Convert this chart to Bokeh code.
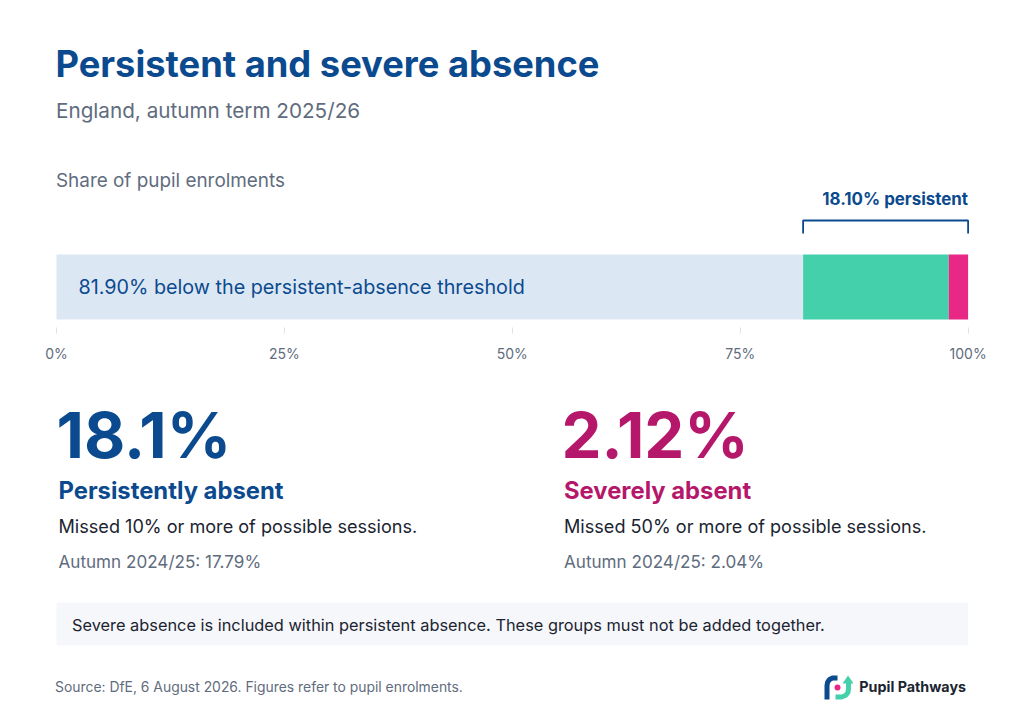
from bokeh.core.properties import value
from bokeh.embed import file_html
from bokeh.layouts import column
from bokeh.resources import INLINE
from bokeh.plotting import figure
from bokeh.models import Range1d, LinearAxis, FixedTicker, ColumnDataSource

# ---- data
segment_names = ["below", "persistent only", "severe"]
segment_values = [81.90, 15.98, 2.12]
persistent_share = 18.10
tick_values = [0, 25, 50, 75, 100]
tick_labels = ["0%", "25%", "50%", "75%", "100%"]

TITLE = "Persistent and severe absence"
SUBTITLE = "England, autumn term 2025/26"
AXIS_TITLE = "Share of pupil enrolments"
BAR_LABEL = "81.90% below the persistent-absence threshold"
BRACKET_LABEL = "18.10% persistent"
NOTE = "Severe absence is included within persistent absence. These groups must not be added together."
SOURCE = "Source: DfE, 6 August 2026. Figures refer to pupil enrolments."
BRAND = "Pupil Pathways"

# ---- colours
NAVY = "#0B4A8E"
MAGENTA = "#B5176B"
GREY = "#5F6C7E"
INK = "#1B2430"
BAR_COLORS = ["#DCE7F4", "#45D0AC", "#E92784"]
FONT = "Inter"

W = 1020
SPLIT = 375   # pixel row where the lower panel begins
AXIS_Y = 327  # pixel row of the axis
BOTTOM = 720
PL, PR = 56, 967.6  # pixels of 0% and 100%
scale = (PR - PL) / 100.0


def panel(height, y_top, y_bottom, **kw):
    f = figure(width=W, height=height, output_backend="svg", toolbar_location=None,
               x_range=Range1d(0, W), y_range=Range1d(y_bottom, y_top),
               x_axis_location=None, y_axis_location=None,
               min_border=0, outline_line_color=None, background_fill_color="white",
               border_fill_color="white", **kw)
    f.grid.visible = False
    return f


top = panel(SPLIT, 0, AXIS_Y, min_border_bottom=SPLIT - AXIS_Y)
low = panel(BOTTOM - SPLIT, SPLIT, BOTTOM)
top.extra_x_ranges = {"pct": Range1d(-PL / scale, (W - PL) / scale)}

# stacked bar
lefts, rights, acc = [], [], 0.0
for v in segment_values:
    lefts.append(acc)
    acc += v
    rights.append(acc)
src = ColumnDataSource(dict(l=lefts, r=rights, c=BAR_COLORS))
top.quad(left="l", right="r", top=254, bottom=319, color="c", line_color=None,
         x_range_name="pct", source=src)

# axis
ax = LinearAxis(x_range_name="pct", ticker=FixedTicker(ticks=tick_values),
                major_label_overrides={t: l for t, l in zip(tick_values, tick_labels)})
ax.axis_line_color = None
ax.minor_tick_line_color = None
ax.major_tick_line_color = "#DCE3EE"
ax.major_tick_line_width = 1
ax.major_tick_in = 0
ax.major_tick_out = 6
ax.major_label_standoff = 11
ax.major_label_text_font = FONT
ax.major_label_text_font_size = "14px"
ax.major_label_text_color = GREY
top.add_layout(ax, "below")

# bracket
bx0 = 100 - persistent_share
top.multi_line(xs=[[bx0, bx0, 100, 100]], ys=[[233, 220, 220, 233]],
               line_color=NAVY, line_width=1.8, x_range_name="pct")


def txt(f, x, y, s, size, color, bold=False, align="left", font=FONT):
    f.text(x=[x], y=[y], text=[s], text_font=value(font), text_font_size=f"{size}px",
           text_color=color, text_font_style="bold" if bold else "normal",
           text_align=align, text_baseline="middle")


# note box
low.quad(left=56, right=967.6, top=602, bottom=645, color="#F6F7FB", line_color=None)

txt(top, 55, 63, TITLE, 36.3, NAVY, True)
txt(top, 55.5, 110, SUBTITLE, 20.7, GREY)
txt(top, 55.5, 180, AXIS_TITLE, 18.9, GREY)
txt(top, 967.5, 198, BRACKET_LABEL, 16.9, NAVY, True, "right")
txt(top, 78, 286, BAR_LABEL, 19.75, NAVY)
txt(low, 56, 434, "18.1%", 63.5, NAVY, True)
txt(low, 58, 490, "Persistently absent", 23.8, NAVY, True)
txt(low, 58, 525, "Missed 10% or more of possible sessions.", 18.1, INK)
txt(low, 58, 561, "Autumn 2024/25: 17.79%", 17.1, GREY)
txt(low, 561, 434, "2.12%", 63.5, MAGENTA, True)
txt(low, 563.5, 490, "Severely absent", 23.8, MAGENTA, True)
txt(low, 563.5, 525, "Missed 50% or more of possible sessions.", 18.1, INK)
txt(low, 563.5, 561, "Autumn 2024/25: 2.04%", 17.1, GREY)
txt(low, 71.5, 624, NOTE, 16.35, INK)
txt(low, 54.5, 686, SOURCE, 13.9, GREY)
txt(low, 965.5, 686, BRAND, 14.3, INK, True, "right")

# logo
low.multi_line(xs=[[826.5, 826.5, 827.2, 829, 832, 837]],
               ys=[[699, 685, 681.5, 679, 677.5, 677.5]],
               line_color=NAVY, line_width=5)
low.multi_line(xs=[[835, 841, 845, 847.5, 848, 848]],
               ys=[[696.5, 696.5, 695, 692, 688, 682]],
               line_color=BAR_COLORS[1], line_width=5)
low.patch(x=[842, 853, 847.5], y=[683, 683, 675], color=BAR_COLORS[1], line_color=None)
low.scatter(x=[837], y=[687], size=6, color=BAR_COLORS[2], line_color=None)

open("out.html", "w").write(file_html(column(top, low, spacing=0), INLINE))
